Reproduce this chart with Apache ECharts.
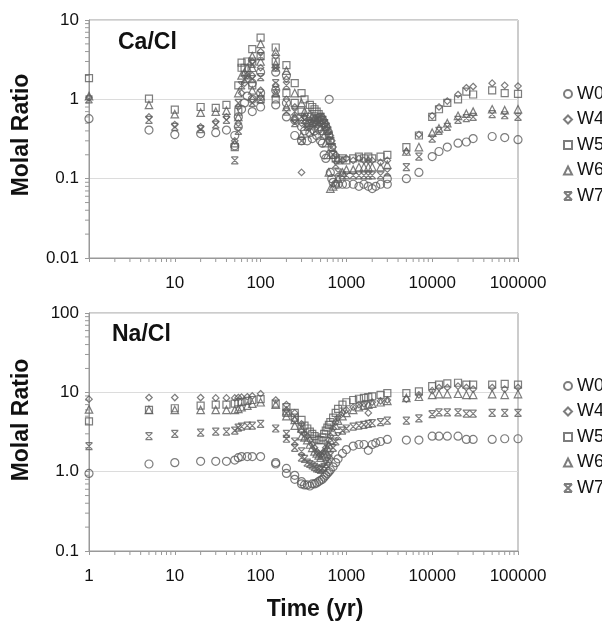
<!DOCTYPE html>
<html>
<head>
<meta charset="utf-8">
<script src="https://cdn.jsdelivr.net/npm/echarts@6/dist/echarts.min.js"></script>
<style>
  html, body { margin: 0; padding: 0; background: #fff; }
  #main { width: 602px; height: 624px; }
</style>
</head>
<body>
<div id="main"></div>
<script>
'use strict';

// series names (legend)
const names = ['W0', 'W4', 'W5', 'W6', 'W7'];

// Ca/Cl  [time (yr), molal ratio]
const caW0 = [[1,0.57],[5,0.41],[10,0.36],[20,0.37],[30,0.38],[40,0.41],[50,0.26],[50,0.35],[55,0.45],[55,0.6],[60,0.75],[65,0.9],[70,1.1],[80,0.7],[80,1.0],[80,1.6],[100,0.8],[100,1.2],[100,2.2],[150,0.85],[150,1.3],[150,2.2],[200,0.6],[200,0.9],[200,2.0],[250,0.35],[250,0.55],[300,0.3],[300,0.45],[325,0.4],[350,0.3],[375,0.38],[400,0.32],[425,0.4],[450,0.35],[475,0.42],[500,0.3],[525,0.28],[550,0.2],[575,0.18],[630,1.0],[650,0.12],[675,0.1],[700,0.09],[750,0.085],[800,0.085],[900,0.085],[1000,0.085],[1200,0.085],[1400,0.08],[1600,0.085],[1800,0.08],[2000,0.075],[2200,0.08],[2500,0.085],[3000,0.085],[3000,0.1],[5000,0.1],[7000,0.12],[10000,0.19],[12000,0.22],[15000,0.25],[20000,0.28],[25000,0.29],[30000,0.32],[50000,0.34],[70000,0.33],[100000,0.31]];
const caW4 = [[1,1.05],[5,0.6],[10,0.48],[20,0.45],[30,0.52],[40,0.6],[50,0.3],[55,0.5],[55,0.8],[60,1.2],[65,1.6],[70,2.0],[80,1.0],[80,2.0],[80,3.0],[100,1.3],[100,2.5],[100,4.0],[150,1.5],[150,2.5],[150,3.5],[200,1.0],[200,1.8],[250,0.55],[250,0.8],[300,0.12],[300,0.5],[325,0.6],[350,0.45],[375,0.55],[400,0.4],[425,0.5],[450,0.45],[475,0.55],[500,0.5],[525,0.6],[550,0.55],[575,0.5],[600,0.45],[625,0.4],[650,0.35],[675,0.3],[700,0.25],[750,0.2],[800,0.17],[900,0.17],[1000,0.18],[1200,0.17],[1400,0.18],[1600,0.17],[1800,0.17],[2000,0.17],[2500,0.16],[3000,0.17],[5000,0.22],[7000,0.36],[10000,0.62],[12000,0.8],[15000,0.95],[20000,1.15],[25000,1.4],[30000,1.45],[50000,1.6],[70000,1.5],[100000,1.47]];
const caW5 = [[1,1.85],[5,1.02],[10,0.74],[20,0.8],[30,0.78],[40,0.85],[50,0.25],[55,0.7],[55,1.5],[60,2.5],[60,2.9],[65,2.5],[70,3.0],[80,1.5],[80,3.0],[80,4.3],[100,1.0],[100,3.5],[100,6.0],[150,1.0],[150,3.0],[150,4.5],[200,1.2],[200,2.7],[250,1.6],[250,0.9],[300,0.7],[300,1.2],[325,1.0],[350,0.6],[375,0.85],[400,0.8],[425,0.75],[450,0.7],[475,0.65],[500,0.6],[525,0.55],[550,0.5],[575,0.45],[600,0.4],[625,0.35],[650,0.3],[675,0.25],[700,0.2],[750,0.18],[800,0.17],[900,0.18],[1000,0.17],[1200,0.18],[1400,0.19],[1600,0.18],[1800,0.19],[2000,0.18],[2500,0.19],[3000,0.2],[5000,0.25],[7000,0.35],[10000,0.6],[12000,0.75],[15000,0.9],[20000,1.0],[25000,1.25],[30000,1.15],[50000,1.3],[70000,1.2],[100000,1.17]];
const caW6 = [[1,1.1],[5,0.85],[10,0.65],[20,0.68],[30,0.7],[40,0.72],[50,0.28],[55,0.6],[55,1.2],[60,2.0],[65,2.2],[70,2.5],[80,1.3],[80,2.5],[80,3.5],[100,1.1],[100,3.0],[100,5.0],[150,1.2],[150,2.8],[150,4.0],[200,0.8],[200,2.3],[250,0.6],[250,1.2],[300,0.35],[300,0.9],[325,0.7],[350,0.5],[375,0.65],[400,0.6],[425,0.58],[450,0.55],[475,0.5],[500,0.45],[525,0.4],[550,0.35],[575,0.28],[600,0.2],[625,0.12],[650,0.075],[700,0.08],[750,0.09],[800,0.1],[900,0.12],[1000,0.13],[1200,0.13],[1400,0.14],[1600,0.14],[1800,0.14],[2000,0.14],[2500,0.14],[3000,0.15],[5000,0.22],[7000,0.25],[10000,0.38],[12000,0.43],[15000,0.5],[20000,0.62],[25000,0.66],[30000,0.7],[50000,0.75],[70000,0.73],[100000,0.75]];
const caW7 = [[1,1.0],[5,0.55],[10,0.45],[20,0.42],[30,0.48],[40,0.55],[50,0.17],[55,0.4],[55,0.9],[60,1.5],[65,1.8],[70,2.0],[80,0.9],[80,1.8],[80,2.8],[100,1.0],[100,1.9],[100,3.5],[150,1.2],[150,1.6],[150,2.5],[200,0.7],[200,1.5],[250,0.5],[250,0.7],[300,0.3],[300,0.6],[325,0.55],[350,0.45],[375,0.5],[400,0.5],[425,0.52],[450,0.55],[475,0.58],[500,0.6],[525,0.55],[550,0.5],[575,0.45],[600,0.4],[625,0.35],[650,0.3],[675,0.25],[700,0.2],[750,0.15],[800,0.12],[900,0.11],[1000,0.11],[1200,0.11],[1400,0.11],[1600,0.11],[1800,0.11],[2000,0.11],[2500,0.11],[3000,0.12],[5000,0.14],[7000,0.19],[10000,0.32],[12000,0.4],[15000,0.45],[20000,0.55],[25000,0.58],[30000,0.6],[50000,0.65],[70000,0.63],[100000,0.6]];

// Na/Cl  [time (yr), molal ratio]
const naW0 = [[1,0.95],[5,1.25],[10,1.3],[20,1.35],[30,1.35],[40,1.35],[50,1.4],[55,1.5],[60,1.55],[70,1.55],[80,1.55],[100,1.55],[150,1.3],[150,1.25],[200,1.1],[200,0.95],[250,0.9],[250,0.8],[300,0.75],[300,0.7],[325,0.68],[350,0.68],[375,0.66],[400,0.7],[425,0.7],[450,0.72],[475,0.75],[500,0.78],[525,0.8],[550,0.85],[575,0.9],[600,0.95],[625,1.0],[650,1.05],[700,1.15],[750,1.3],[800,1.45],[900,1.7],[1000,1.9],[1200,2.1],[1400,2.2],[1600,2.2],[1800,1.86],[2000,2.2],[2200,2.3],[2500,2.4],[3000,2.55],[5000,2.5],[7000,2.5],[10000,2.8],[12000,2.8],[15000,2.8],[20000,2.8],[25000,2.55],[30000,2.55],[50000,2.55],[70000,2.6],[100000,2.6]];
const naW4 = [[1,8.2],[5,8.6],[10,8.6],[20,8.6],[30,8.5],[40,8.5],[50,8.5],[55,8.6],[60,8.7],[70,8.8],[80,9.0],[100,9.6],[150,8.0],[200,7.0],[200,6.0],[250,5.5],[250,4.5],[300,4.0],[300,3.2],[325,3.0],[350,2.8],[375,2.5],[400,2.2],[425,2.0],[450,1.8],[475,1.7],[500,1.6],[525,1.7],[550,1.8],[575,2.0],[600,2.2],[625,2.5],[650,2.8],[700,3.5],[750,4.2],[800,4.8],[900,5.5],[1000,6.0],[1200,6.5],[1400,7.0],[1600,7.2],[1800,5.5],[2000,7.5],[2500,7.8],[3000,8.0],[5000,8.2],[7000,9.3],[10000,10.5],[12000,11.5],[15000,11.5],[20000,12.0],[25000,11.5],[30000,11.0],[50000,11.5],[70000,11.0],[100000,11.5]];
const naW5 = [[1,4.3],[5,6.0],[10,6.3],[20,6.8],[30,7.0],[40,7.0],[50,7.2],[55,7.5],[60,7.6],[70,7.8],[80,8.0],[100,8.2],[150,7.2],[200,6.5],[200,5.5],[250,5.5],[250,4.8],[300,4.5],[300,3.5],[325,3.8],[350,3.5],[375,3.2],[400,3.0],[425,2.8],[450,2.6],[475,2.5],[500,2.5],[525,2.7],[550,3.0],[575,3.3],[600,3.6],[625,3.9],[650,4.2],[700,4.8],[750,5.5],[800,6.2],[900,7.0],[1000,7.5],[1200,8.0],[1400,8.3],[1600,8.5],[1800,8.7],[2000,8.9],[2500,9.3],[3000,9.8],[5000,9.8],[7000,10.3],[10000,12.0],[12000,12.5],[15000,13.0],[20000,13.2],[25000,12.5],[30000,12.5],[50000,12.5],[70000,12.8],[100000,12.5]];
const naW6 = [[1,6.1],[5,6.0],[10,6.0],[20,6.0],[30,6.0],[40,6.0],[50,6.0],[55,6.2],[60,6.5],[70,6.8],[80,7.2],[100,7.5],[150,7.0],[200,5.8],[200,5.0],[250,4.5],[250,3.8],[300,3.5],[300,2.8],[325,2.7],[350,2.5],[375,2.2],[400,2.0],[425,1.8],[450,1.7],[475,1.6],[500,1.5],[525,1.6],[550,1.7],[575,1.85],[600,2.0],[625,2.2],[650,2.5],[700,3.2],[750,3.8],[800,4.4],[900,5.0],[1000,5.5],[1200,6.0],[1400,6.5],[1600,6.8],[1800,7.0],[2000,7.2],[2500,7.5],[3000,7.8],[5000,8.5],[7000,8.8],[10000,9.3],[12000,9.5],[15000,9.5],[20000,9.6],[25000,9.3],[30000,9.3],[50000,9.5],[70000,9.3],[100000,9.5]];
const naW7 = [[1,2.1],[5,2.8],[10,3.0],[20,3.1],[30,3.2],[40,3.2],[50,3.3],[55,3.6],[60,3.7],[70,3.8],[80,3.8],[100,4.0],[150,3.5],[200,3.0],[200,2.6],[250,2.4],[250,2.0],[300,1.8],[300,1.5],[325,1.45],[350,1.3],[375,1.25],[400,1.2],[425,1.15],[450,1.1],[475,1.08],[500,1.05],[525,1.1],[550,1.15],[575,1.25],[600,1.35],[625,1.45],[650,1.6],[700,2.0],[750,2.4],[800,2.8],[900,3.3],[1000,3.5],[1200,3.7],[1400,3.8],[1600,3.9],[1800,4.0],[2000,4.1],[2500,4.2],[3000,4.4],[5000,4.4],[7000,4.7],[10000,5.3],[12000,5.6],[15000,5.6],[20000,5.6],[25000,5.4],[30000,5.4],[50000,5.5],[70000,5.5],[100000,5.5]];

// axis ranges
const xRange = [1, 100000];
const caRange = [0.01, 10];
const naRange = [0.1, 100];

// minor tick mantissas (log axes)
const minorSteps = [2, 3, 4, 5, 6, 7, 8, 9];
const xDecades = [1, 10, 100, 1000, 10000];
const caDecades = [0.01, 0.1, 1];
const naDecades = [0.1, 1, 10];

const FONT = 'Liberation Sans, Arial, Helvetica, sans-serif';
const symbols = ['circle', 'diamond', 'rect', 'triangle',
  'path://M0,0L10,0M0,10L10,10M0,0L10,10M10,0L0,10'];
const sizes = [8, 6.5, 7, 7.5, 7];
const markColor = '#5c5c5c';

let chart = echarts.init(document.getElementById('main'));

function fmt(v) {
  return String(Number(v.toPrecision(6)));
}

function minorOf(decades) {
  let out = [];
  decades.forEach(function(d) {
    minorSteps.forEach(function(m) { out.push(Number((d * m).toPrecision(6))); });
  });
  return out;
}

function scatter(name, data, i, g) {
  return {
    name: name,
    type: 'scatter',
    xAxisIndex: g,
    yAxisIndex: g,
    data: data,
    symbol: symbols[i],
    symbolSize: sizes[i],
    itemStyle: { color: 'rgba(255,255,255,0)', borderColor: markColor, borderWidth: 1.2 },
    emphasis: { disabled: true },
    silent: true
  };
}

// minor ticks drawn through the axis scales
function tickSeries(g, vals, isX, yMin) {
  return {
    type: 'custom',
    xAxisIndex: g,
    yAxisIndex: g,
    silent: true,
    clip: false,
    data: vals.map(function(v) { return isX ? [v, yMin] : [1, v]; }),
    renderItem: function(params, api) {
      let p = api.coord([api.value(0), api.value(1)]);
      let shape = isX ? { x1: p[0], y1: p[1], x2: p[0], y2: p[1] + 4 }
                      : { x1: p[0] - 4, y1: p[1], x2: p[0], y2: p[1] };
      return { type: 'line', shape: shape, style: { stroke: '#999', lineWidth: 1 } };
    }
  };
}

function xAxis(g, showOne) {
  return {
    type: 'log', logBase: 10, gridIndex: g, min: xRange[0], max: xRange[1],
    axisLine: { lineStyle: { color: '#999', width: 1 } },
    axisTick: { show: true, inside: false, length: 4, lineStyle: { color: '#999' } },
    axisLabel: {
      color: '#111', fontSize: 17, fontFamily: FONT, margin: 17,
      formatter: function(v) { return (!showOne && v === 1) ? '' : fmt(v); }
    },
    splitLine: { show: false }
  };
}

function yAxis(g, range, labels) {
  return {
    type: 'log', logBase: 10, gridIndex: g, min: range[0], max: range[1],
    axisLine: { show: true, lineStyle: { color: '#999', width: 1 } },
    axisTick: { show: true, inside: false, length: 4, lineStyle: { color: '#999' } },
    axisLabel: {
      color: '#111', fontSize: 17, fontFamily: FONT, margin: 10,
      formatter: labels
    },
    splitLine: { show: true, lineStyle: { color: '#dcdcdc', width: 1 } }
  };
}

const legendBase = {
  orient: 'vertical', left: 558, itemWidth: 8, itemHeight: 8, itemGap: 7.5,
  textStyle: { fontSize: 18, fontFamily: FONT, color: '#111', padding: [0, 0, 0, 0] },
  selectedMode: false, data: names
};

let series = [];
[caW0, caW4, caW5, caW6, caW7].forEach(function(d, i) { series.push(scatter(names[i], d, i, 0)); });
[naW0, naW4, naW5, naW6, naW7].forEach(function(d, i) { series.push(scatter(names[i], d, i, 1)); });
series.push(tickSeries(0, minorOf(xDecades), true, caRange[0]));
series.push(tickSeries(0, minorOf(caDecades), false));
series.push(tickSeries(1, minorOf(xDecades), true, naRange[0]));
series.push(tickSeries(1, minorOf(naDecades), false));

let option = {
  animation: false,
  backgroundColor: '#fff',
  grid: [
    { left: 89, top: 20, width: 429, height: 238, show: true, borderColor: '#999', borderWidth: 1 },
    { left: 89, top: 313, width: 429, height: 238, show: true, borderColor: '#999', borderWidth: 1 }
  ],
  title: [
    { text: 'Ca/Cl', left: 118, top: 31, padding: 0,
      textStyle: { fontSize: 23, fontWeight: 'bold', fontFamily: FONT, color: '#111' } },
    { text: 'Na/Cl', left: 112, top: 323, padding: 0,
      textStyle: { fontSize: 23, fontWeight: 'bold', fontFamily: FONT, color: '#111' } }
  ],
  legend: [
    Object.assign({}, legendBase, { top: 80 }),
    Object.assign({}, legendBase, { top: 372 })
  ],
  xAxis: [xAxis(0, false), xAxis(1, true)],
  yAxis: [
    yAxis(0, caRange, function(v) { return fmt(v); }),
    yAxis(1, naRange, function(v) { return v === 1 ? '1.0' : fmt(v); })
  ],
  graphic: [
    { type: 'text', x: 22, y: 135, rotation: Math.PI / 2,
      style: { text: 'Molal Ratio', font: 'bold 23px ' + FONT, fill: '#111', textAlign: 'center', textVerticalAlign: 'middle' } },
    { type: 'text', x: 22, y: 420, rotation: Math.PI / 2,
      style: { text: 'Molal Ratio', font: 'bold 23px ' + FONT, fill: '#111', textAlign: 'center', textVerticalAlign: 'middle' } },
    { type: 'text', x: 315, y: 610,
      style: { text: 'Time (yr)', font: 'bold 23px ' + FONT, fill: '#111', textAlign: 'center', textVerticalAlign: 'middle' } }
  ],
  series: series
};

chart.setOption(option);
</script>
</body>
</html>
